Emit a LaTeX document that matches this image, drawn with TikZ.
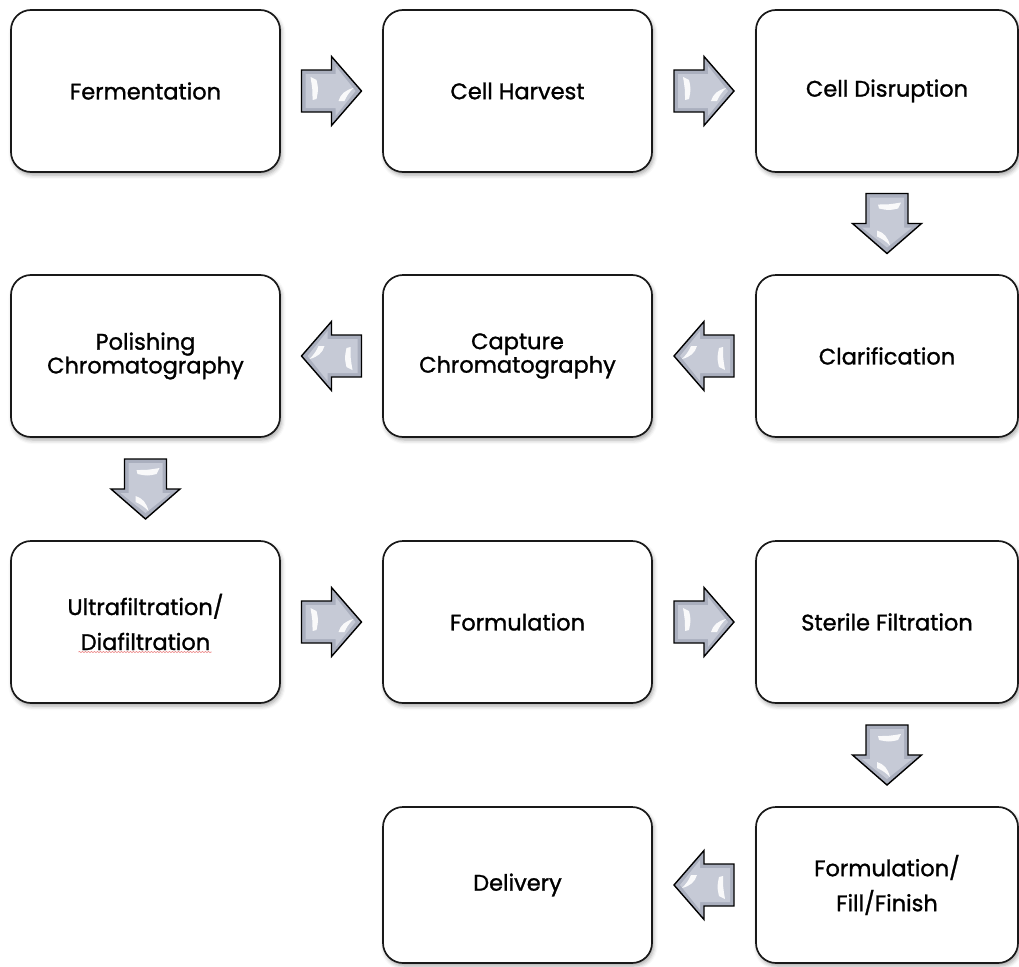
\documentclass[tikz,border=0pt]{standalone}
\usepackage{fontspec}
\setmainfont{Poppins}[FakeBold=1.2]
\usetikzlibrary{calc,shadows.blur,decorations.pathmorphing}

\definecolor{arrowedge}{RGB}{170,175,190}
\definecolor{arrowface}{RGB}{198,202,214}
\definecolor{spellred}{RGB}{236,130,130}

\tikzset{
  stage/.style={draw=black!90, line width=1.7pt, rounded corners=20pt, fill=white,
    minimum width=269pt, minimum height=162pt, inner sep=0pt, align=center,
    font=\fontsize{22.5}{21}\selectfont,
    blur shadow={shadow xshift=1.5pt, shadow yshift=-3pt, shadow blur radius=4pt, shadow opacity=35}},
  narrow/.style={minimum width=262pt},
  short/.style={minimum height=156pt},
  loose/.style={font=\fontsize{22.5}{35}\selectfont},
  blockarrow/.pic={
    % bevelled block arrow pointing right, centred on the origin
    \filldraw[fill=arrowedge, draw=black, line width=1.4pt, line join=miter]
      (-30,-21) -- (0,-21) -- (0,-34.5) -- (30,0) -- (0,34.5) -- (0,21) -- (-30,21) -- cycle;
    \fill[arrowface] (-26,-17) -- (4,-17) -- (4,-25) -- (24,0) -- (4,25) -- (4,17) -- (-26,17) -- cycle;
    \fill[white, opacity=0.9] (-21,-14) -- (-15,-11) .. controls (-13,-2) .. (-15,8)
      -- (-19,9) .. controls (-19,-2) .. (-21,-14) -- cycle;
    \fill[white, opacity=0.9] (22,-3) .. controls (14,-1) and (9,3) .. (7,10)
      -- (13,10) .. controls (15,5) and (18,1) .. (22,-3) -- cycle;
  }
}

\begin{document}
\begin{tikzpicture}[x=1pt, y=-1pt]
  \useasboundingbox (0,0) rectangle (1019,966);

  % process stages
  \node[stage] (ferm) at (145.5,91) {Fermentation};
  \node[stage] (harv) at (517.5,91) {Cell Harvest};
  \node[stage, narrow] (disr) at (887,91) {Cell Disruption};

  \node[stage] (pol) at (145.5,356) {Polishing\\Chromatography};
  \node[stage] (capt) at (517.5,356) {Capture\\Chromatography};
  \node[stage, narrow] (clar) at (887,356) {Clarification};

  \node[stage, loose] (ufdf) at (145.5,622) {Ultrafiltration/\\Diafiltration};
  \node[stage] (form) at (517.5,622) {Formulation};
  \node[stage, narrow] (ster) at (887,622) {Sterile Filtration};

  \node[stage, short] (deliv) at (517.5,885) {Delivery};
  \node[stage, narrow, short, loose] (fff) at (887,885) {Formulation/\\Fill/Finish};

  % spelling mark under the second line
  \draw[spellred, line width=0.6pt, decorate, decoration={snake, amplitude=0.6pt, segment length=3pt}]
    ($(ufdf.center)+(-67,30)$) -- ($(ufdf.center)+(66,30)$);

  % flow arrows
  \pic at ($(ferm.east)!0.5!(harv.west)$) {blockarrow};
  \pic at ($(harv.east)!0.5!(disr.west)$) {blockarrow};
  \pic[rotate=-90] at ($(disr.south)!0.5!(clar.north)$) {blockarrow};
  \pic[rotate=180] at ($(clar.west)!0.5!(capt.east)$) {blockarrow};
  \pic[rotate=180] at ($(capt.west)!0.5!(pol.east)$) {blockarrow};
  \pic[rotate=-90] at ($(pol.south)!0.5!(ufdf.north)$) {blockarrow};
  \pic at ($(ufdf.east)!0.5!(form.west)$) {blockarrow};
  \pic at ($(form.east)!0.5!(ster.west)$) {blockarrow};
  \pic[rotate=-90] at ($(ster.south)!0.5!(fff.north)$) {blockarrow};
  \pic[rotate=180] at ($(fff.west)!0.5!(deliv.east)$) {blockarrow};
\end{tikzpicture}
\end{document}
